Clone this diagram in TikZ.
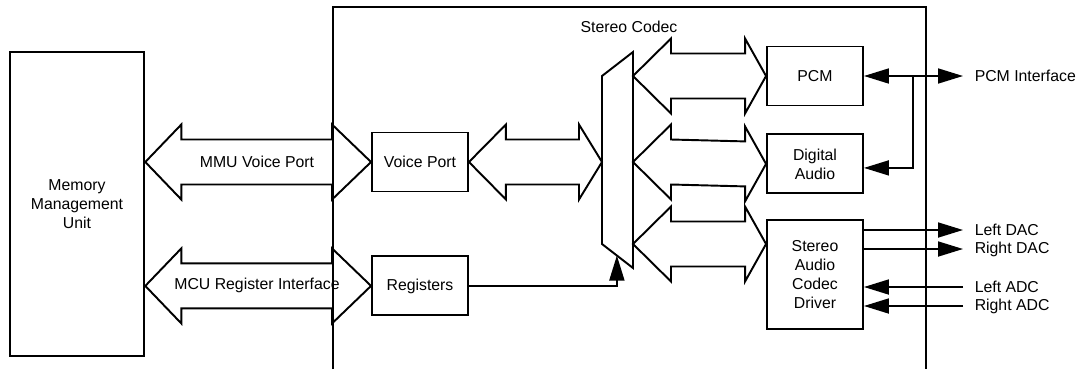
\documentclass[tikz,border=0pt]{standalone}
\usepackage{fontspec}
\setmainfont{Liberation Sans}
\usetikzlibrary{arrows.meta, positioning, calc}

% wide two-headed bus arrow: tip #1, tip #2, head lengths #3 and #4
\newcommand{\fatarrow}[4]{%
  \draw[fat] (#1) -- ($(#1)+(#3,-37.5)$) -- ($(#1)+(#3,-22.5)$)
    -- ($(#2)+(-#4,-22.5)$) -- ($(#2)+(-#4,-37.5)$) -- (#2)
    -- ($(#2)+(-#4,37.5)$) -- ($(#2)+(-#4,22.5)$)
    -- ($(#1)+(#3,22.5)$) -- ($(#1)+(#3,37.5)$) -- cycle;}

\begin{document}
\begin{tikzpicture}[x=0.02cm, y=-0.02cm, font=\fontsize{9}{10.8}\selectfont,
        blk/.style={draw, line width=1.1pt, minimum width=1.92cm, minimum height=1.18cm, align=center, inner sep=0pt},
        fat/.style={draw, line width=1.1pt, fill=white, line join=miter},
        wire/.style={line width=1pt, -{Triangle[length=0.5cm, width=0.3cm]}},
        lbl/.style={anchor=west, inner xsep=6.5pt, inner ysep=0pt}]
  \useasboundingbox (0,0) rectangle (1079,369);

  % outer blocks
  \node[draw, line width=1.5pt, minimum width=2.68cm, minimum height=6.08cm, align=center, inner sep=0pt] (mmu) at (77,204) {Memory\\Management\\Unit};
  \node (codec) at (629,27) {Stereo Codec};

  % inner blocks
  \node[blk] (vp) at (420,162) {Voice Port};
  \node[blk, below=1.26cm of vp] (reg) {Registers};
  \node[blk] (pcm) at (815,76) {PCM};
  \node[blk, below=0.54cm of pcm] (da) {Digital\\Audio};
  \node[blk, minimum height=2.18cm, below=0.5cm of da] (drv) {Stereo\\Audio\\Codec\\Driver};

  % mux
  \draw[line width=1.1pt] (602,76) -- (633,52) -- (633,268) -- (602,244) -- cycle;
  \coordinate (muxL) at (602,162);
  \coordinate (muxA) at (633,76);
  \coordinate (muxB) at (633,162);
  \coordinate (muxC) at (633,244);
  \coordinate (muxS) at ($(602,244)!0.48!(633,268)$);

  % buses
  \coordinate (mvp) at (mmu.east |- vp.west);
  \coordinate (mreg) at (mmu.east |- reg.west);
  \fatarrow{mvp}{vp.west}{36}{39}
  \fatarrow{mreg}{reg.west}{36}{39}
  \fatarrow{vp.east}{muxL}{37}{23}
  \fatarrow{muxA}{pcm.west}{38}{21}
  \fatarrow{muxB}{da.west}{38}{21}
  \fatarrow{muxC}{drv.west |- muxC}{38}{21}
  \node at (257,162) {MMU Voice Port};
  \node at (257,285) {MCU Register Interface};

  % codec frame, open at the bottom
  \draw[line width=1.6pt] (333,369) -- (333,7) -- (926,7) -- (926,369);

  \draw[wire] (reg.east) -| (muxS);

  % external signals
  \node[lbl] (pcmif) at (963,76) {PCM Interface};
  \node[lbl] (ldac) at (963,230) {Left DAC};
  \node[lbl] (rdac) at (963,249) {Right DAC};
  \node[lbl] (ladc) at (963,287) {Left ADC};
  \node[lbl] (radc) at (963,306) {Right ADC};
  \coordinate (jn) at (913,76);
  \draw[wire, {Triangle[length=0.5cm, width=0.3cm]}-{Triangle[length=0.5cm, width=0.3cm]}] (pcm.east) -- (pcmif.west);
  \draw[wire] (jn) |- ($(da.east)+(0,4)$);
  \draw[wire] (drv.east |- ldac) -- (ldac.west);
  \draw[wire] (drv.east |- rdac) -- (rdac.west);
  \draw[wire] (ladc.west) -- (drv.east |- ladc);
  \draw[wire] (radc.west) -- (drv.east |- radc);
\end{tikzpicture}
\end{document}
